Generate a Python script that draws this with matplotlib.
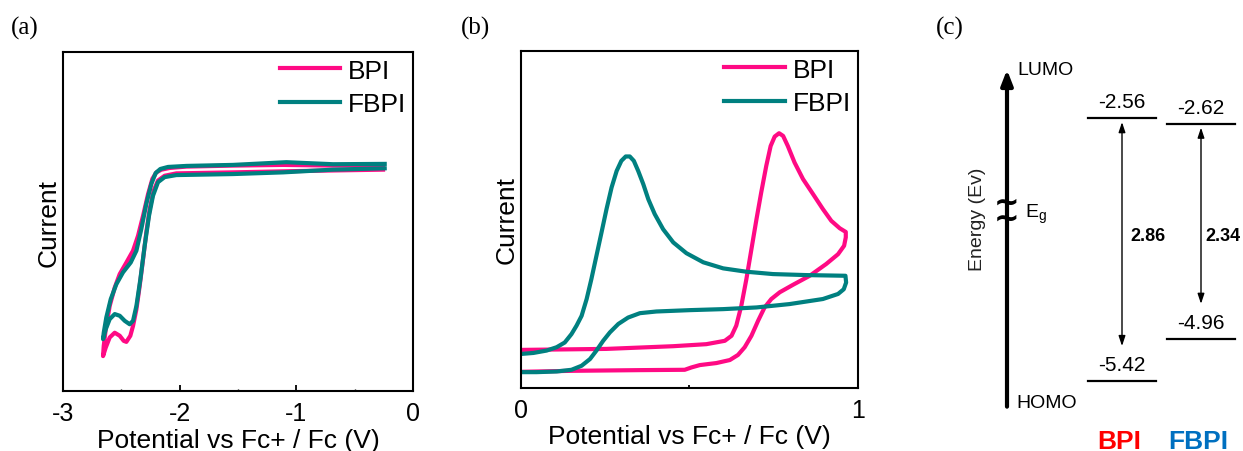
import matplotlib

matplotlib.use("Agg")
import matplotlib.pyplot as plt  # noqa: E402

plt.rcParams["font.family"] = ["Liberation Sans", "DejaVu Sans"]
plt.rcParams["mathtext.fontset"] = "custom"
plt.rcParams["mathtext.rm"] = "Liberation Sans"
plt.rcParams["mathtext.it"] = "Liberation Sans"

PINK, TEAL = "#FF0A84", "#008080"
RED, BLUE = "#FF0000", "#0070C0"
SERIF = ["Liberation Serif", "DejaVu Serif"]

# (a) reduction CV: potential (V) and current (a.u.), traced round the loop
bpi_red_v = [-0.257, -0.686, -1.114, -1.543, -1.943, -2.086, -2.157, -2.200, -2.234,
             -2.271, -2.314, -2.357, -2.400, -2.457, -2.514, -2.557, -2.600, -2.634,
             -2.651, -2.657, -2.634, -2.600, -2.557, -2.514, -2.480, -2.457, -2.423,
             -2.400, -2.371, -2.343, -2.314, -2.286, -2.257, -2.223, -2.186, -2.129,
             -2.029, -1.543, -0.971, -0.257]
bpi_red_i = [0.665, 0.665, 0.667, 0.665, 0.662, 0.658, 0.653, 0.645, 0.626,
             0.581, 0.517, 0.458, 0.414, 0.379, 0.345, 0.305, 0.251, 0.182,
             0.133, 0.103, 0.128, 0.158, 0.172, 0.163, 0.148, 0.145, 0.163,
             0.192, 0.241, 0.310, 0.389, 0.468, 0.537, 0.591, 0.621, 0.635,
             0.642, 0.645, 0.649, 0.653]
fbpi_red_v = [-0.243, -0.686, -1.086, -1.314, -1.543, -1.943, -2.100, -2.166, -2.206,
              -2.243, -2.286, -2.329, -2.371, -2.420, -2.486, -2.543, -2.591, -2.629,
              -2.651, -2.657, -2.634, -2.600, -2.557, -2.514, -2.471, -2.429, -2.400,
              -2.371, -2.337, -2.300, -2.263, -2.229, -2.186, -2.129, -2.029, -1.543,
              -1.114, -0.686, -0.243]
fbpi_red_i = [0.670, 0.669, 0.675, 0.671, 0.667, 0.664, 0.661, 0.655, 0.643,
              0.611, 0.552, 0.478, 0.414, 0.379, 0.350, 0.315, 0.271, 0.217,
              0.172, 0.153, 0.182, 0.212, 0.227, 0.222, 0.207, 0.197, 0.207,
              0.251, 0.330, 0.429, 0.517, 0.576, 0.616, 0.631, 0.637, 0.640,
              0.645, 0.653, 0.657]

# (b) oxidation CV
bpi_ox_v = [0.000, 0.155, 0.353, 0.486, 0.506, 0.531, 0.580, 0.620, 0.644, 0.664,
            0.684, 0.704, 0.723, 0.743, 0.768, 0.807, 0.857, 0.906, 0.941, 0.959,
            0.964, 0.964, 0.946, 0.921, 0.896, 0.867, 0.837, 0.812, 0.792, 0.778,
            0.766, 0.753, 0.741, 0.728, 0.713, 0.699, 0.684, 0.669, 0.654, 0.639,
            0.625, 0.605, 0.550, 0.452, 0.254, 0.000]
bpi_ox_i = [0.048, 0.051, 0.053, 0.054, 0.061, 0.068, 0.074, 0.083, 0.098, 0.121,
            0.155, 0.200, 0.239, 0.264, 0.284, 0.306, 0.333, 0.368, 0.397, 0.422,
            0.447, 0.463, 0.474, 0.496, 0.531, 0.575, 0.620, 0.669, 0.718, 0.748,
            0.756, 0.746, 0.718, 0.659, 0.580, 0.501, 0.412, 0.323, 0.244, 0.185,
            0.155, 0.140, 0.130, 0.124, 0.116, 0.113]
fbpi_ox_v = [0.000, 0.037, 0.076, 0.106, 0.130, 0.150, 0.165, 0.180, 0.195, 0.209,
             0.224, 0.239, 0.254, 0.269, 0.284, 0.298, 0.311, 0.323, 0.335, 0.348,
             0.363, 0.378, 0.397, 0.422, 0.452, 0.491, 0.541, 0.600, 0.669, 0.748,
             0.847, 0.963, 0.965, 0.958, 0.941, 0.896, 0.797, 0.699, 0.600, 0.501,
             0.402, 0.353, 0.318, 0.289, 0.264, 0.244, 0.224, 0.205, 0.180, 0.150,
             0.106, 0.046, 0.000]
fbpi_ox_i = [0.101, 0.104, 0.111, 0.121, 0.135, 0.160, 0.185, 0.214, 0.264, 0.323,
             0.392, 0.461, 0.531, 0.595, 0.644, 0.674, 0.687, 0.687, 0.674, 0.644,
             0.605, 0.560, 0.516, 0.471, 0.432, 0.400, 0.373, 0.355, 0.345, 0.338,
             0.335, 0.333, 0.313, 0.293, 0.279, 0.264, 0.249, 0.239, 0.234, 0.231,
             0.227, 0.222, 0.209, 0.190, 0.165, 0.140, 0.111, 0.086, 0.066, 0.054,
             0.049, 0.047, 0.047]

# (c) frontier orbital levels (eV)
materials = ["BPI", "FBPI"]
lumo = [-2.56, -2.62]
homo = [-5.42, -4.96]
gaps = ["2.86", "2.34"]
name_colors = [RED, BLUE]


def style_cv(ax, xlim, xticks, xticklabels):
    ax.set_xlim(*xlim)
    ax.set_ylim(0, 1)
    ax.set_yticks([])
    ax.set_xticks(xticks)
    ax.set_xticklabels(xticklabels)
    ax.tick_params(axis="x", direction="in", length=4, width=1.3,
                   labelsize=18, pad=7)
    for sp in ax.spines.values():
        sp.set_linewidth(1.5)
    ax.set_xlabel("Potential vs Fc+ / Fc (V)", fontsize=19, labelpad=2)
    ax.set_ylabel("Current", fontsize=19, labelpad=2)
    ax.legend(loc="upper right", frameon=False, fontsize=19,
              handlelength=2.3, handletextpad=0.3, labelspacing=0.35,
              borderpad=0.1, borderaxespad=0.15)


fig = plt.figure(figsize=(12.43, 4.52), dpi=100)

ax_a = fig.add_axes([0.0507, 0.1327, 0.2816, 0.750])
ax_a.plot(bpi_red_v, bpi_red_i, color=PINK, lw=3, label="BPI",
          solid_joinstyle="round")
ax_a.plot(fbpi_red_v, fbpi_red_i, color=TEAL, lw=3, label="FBPI",
          solid_joinstyle="round")
style_cv(ax_a, (-3, 0), [-3, -2, -1, 0], ["-3", "-2", "-1", "0"])
ax_a.set_xticks([-2.5, -1.5, -0.5], minor=True)
ax_a.tick_params(axis="x", which="minor", direction="in", length=1.5, width=1)

ax_b = fig.add_axes([0.4191, 0.1394, 0.2711, 0.7456])
ax_b.plot(bpi_ox_v, bpi_ox_i, color=PINK, lw=3, label="BPI",
          solid_joinstyle="round")
ax_b.plot(fbpi_ox_v, fbpi_ox_i, color=TEAL, lw=3, label="FBPI",
          solid_joinstyle="round")
style_cv(ax_b, (0, 1), [0, 0.5, 1], ["0", "", "1"])
ax_b.tick_params(axis="x", length=2)

# (c) energy diagram; x in figure pixels, y in eV
ax_c = fig.add_axes([0, 0, 1, 1], zorder=-1)
ax_c.set_xlim(0, 1243)
ax_c.set_ylim(-6.183, -1.259)
ax_c.axis("off")

axis_x = 1007
ax_c.annotate("", xy=(axis_x, -2.03), xytext=(axis_x, -5.70),
              arrowprops=dict(arrowstyle="-|>,head_length=0.9,head_width=0.35",
                              lw=3, color="black", shrinkA=0, shrinkB=0))
ax_c.text(axis_x + 10, -2.03, "LUMO", fontsize=14, va="center", ha="left")
ax_c.text(axis_x + 9, -5.65, "HOMO", fontsize=14, va="center", ha="left")
ax_c.text(978, -3.65, "Energy (Ev)", fontsize=14, rotation=90,
          va="center", ha="center", color="#222222")
ax_c.text(axis_x, -3.56, "~\n~", fontsize=22, va="center", ha="center",
          linespacing=0.45, fontweight="bold", family="DejaVu Sans")
ax_c.text(axis_x + 18, -3.60, r"E$_\mathregular{g}$", fontsize=14,
          va="center", ha="left")

centers = [1122, 1201]
gap_x = [1148, 1223]
for k, name in enumerate(materials):
    cx = centers[k]
    for e in (lumo[k], homo[k]):
        ax_c.plot([cx - 34, cx + 34], [e, e], color="black", lw=1.6)
        ax_c.annotate(f"{e:.2f}", (cx, e), xytext=(0, 5),
                      textcoords="offset points", ha="center", va="bottom",
                      fontsize=15)
    ax_c.annotate("", xy=(cx, lumo[k] - 0.04), xytext=(cx, homo[k] + 0.38),
                  arrowprops=dict(arrowstyle="<|-|>,head_length=0.6,head_width=0.2",
                                  lw=1, color="black", shrinkA=0, shrinkB=0))
    ax_c.text(gap_x[k], -3.83, gaps[k], fontsize=13, fontweight="bold",
              ha="center", va="center")
    ax_c.text(cx - 3, -6.07, name, fontsize=19, fontweight="bold",
              color=name_colors[k], ha="center", va="center")

for x, lab in [(25, "(a)"), (475, "(b)"), (950, "(c)")]:
    fig.text(x / 1243, 1 - 28 / 452, lab, fontsize=18, family=SERIF,
             ha="center", va="center")

fig.savefig("out.png", dpi=100)
